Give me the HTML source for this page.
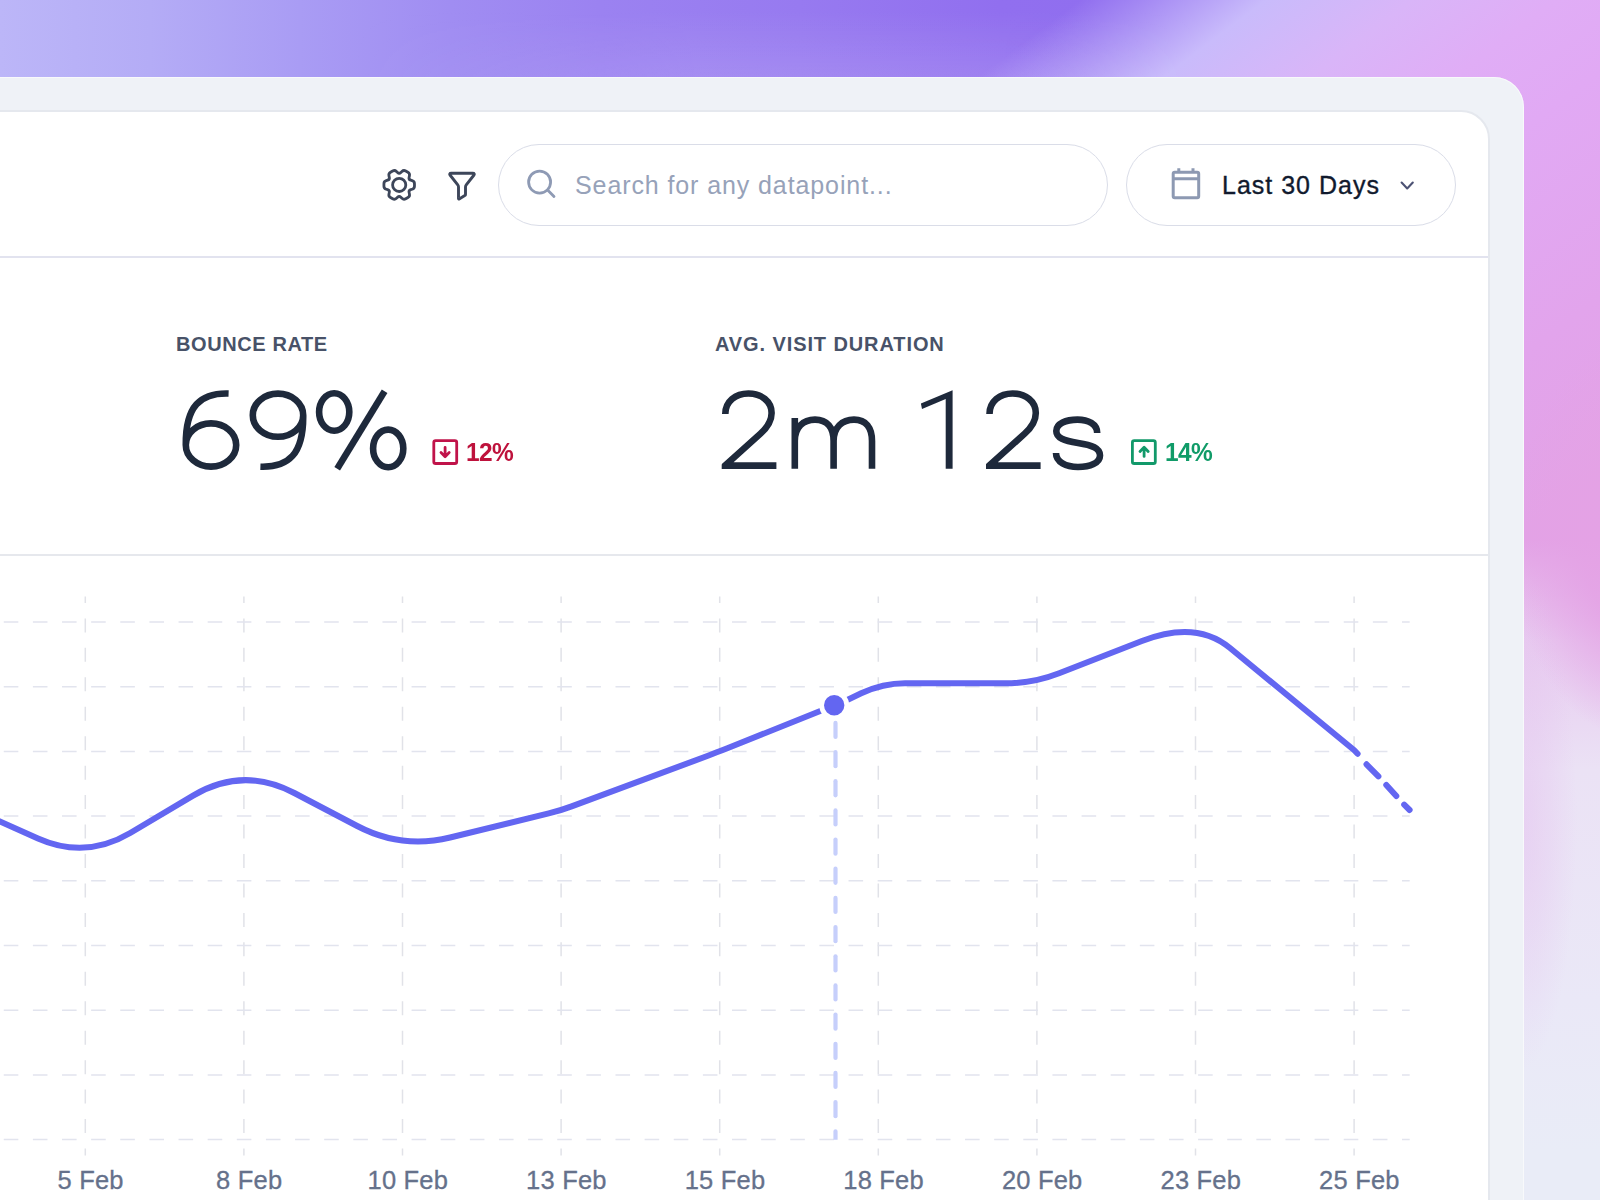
<!DOCTYPE html>
<html><head><meta charset="utf-8">
<style>
*{margin:0;padding:0;box-sizing:border-box}
html,body{width:1600px;height:1200px;overflow:hidden}
body{font-family:"Liberation Sans",sans-serif;position:relative;background:#d9b0f6;}
.bg{position:absolute;left:0;top:0;width:1600px;height:1200px;
 background:
  radial-gradient(ellipse 55px 250px at 1522px 820px, rgba(228,190,238,.5) 0%, rgba(228,190,238,.28) 50%, rgba(228,190,238,0) 100%),
  radial-gradient(ellipse 130px 200px at 1640px 540px, rgba(228,162,229,1) 0%, rgba(228,162,229,.85) 45%, rgba(228,162,229,0) 100%),
  linear-gradient(180deg, rgba(234,224,245,0) 540px, rgba(233,212,242,.8) 640px, rgba(235,226,245,1) 770px, rgba(234,232,247,1) 1000px, rgba(233,236,247,1) 1150px),
  linear-gradient(143deg,rgba(146,112,239,0) 650px,#c9bbfb 762px,#d9b5f8 850px,#e0adf6 936px,#e1a9f4 1020px,#e2a4ec 1200px,#e3a2e6 1340px,#e3a2e6 1920px),
  linear-gradient(90deg,#bcb6f8 0px,#b4acf6 150px,#a99cf4 300px,#a08df2 450px,#9b82f1 600px,#977af0 800px,#916fef 1000px,#906eef 1100px,#906eef 1600px);}
.topfade{position:absolute;left:0;top:0;width:1300px;height:77px;background:linear-gradient(180deg,rgba(255,255,255,0) 10px,rgba(255,255,255,.12) 77px);-webkit-mask-image:linear-gradient(90deg,transparent 350px,#000 700px,#000 1000px,transparent 1200px);mask-image:linear-gradient(90deg,transparent 350px,#000 700px,#000 1000px,transparent 1200px)}
.outer{position:absolute;left:-60px;top:77px;width:1584px;height:1300px;background:#eff2f7;border-radius:30px;box-shadow:inset 0 0 0 1px rgba(255,255,255,.55)}
.card{position:absolute;left:-60px;top:110px;width:1550px;height:1300px;background:#fff;border:2px solid #e5e8ee;border-radius:29px}
.hr1{position:absolute;left:0;top:256px;width:1488px;height:2px;background:#e2e3ef}
.hr2{position:absolute;left:0;top:554px;width:1488px;height:2px;background:#e6e8ed}
.pill{position:absolute;top:144px;height:82px;border:1.5px solid #dadde8;border-radius:41px;background:#fff}
.search{left:498px;width:610px}
.date{left:1126px;width:330px}
.ph{position:absolute;left:575px;top:170px;font-size:25px;line-height:30px;color:#97a2b9;white-space:nowrap;letter-spacing:.9px}
.dl{position:absolute;left:1222px;top:170px;font-size:25px;line-height:30px;color:#111a2e;white-space:nowrap;-webkit-text-stroke:.35px #111a2e;letter-spacing:1px}
.lbl{position:absolute;top:332px;font-size:20px;line-height:24px;font-weight:700;color:#485268;letter-spacing:.4px;white-space:nowrap}
.big{position:absolute;top:370px;font-size:110px;line-height:120px;color:#1e293b;white-space:nowrap}
.delta{position:absolute;top:437px;font-size:26px;line-height:30px;font-weight:700;white-space:nowrap;letter-spacing:-.6px;transform:scaleX(.94);transform-origin:0 0}
svg{position:absolute;left:0;top:0}
</style></head><body>
<div class="bg"></div>
<div class="topfade"></div>
<div class="outer"></div>
<div class="card"></div>
<div class="hr1"></div>
<div class="hr2"></div>
<div class="pill search"></div>
<div class="pill date"></div>
<div class="ph">Search for any datapoint...</div>
<div class="dl">Last 30 Days</div>
<div class="lbl" style="left:176px;letter-spacing:.6px">BOUNCE RATE</div>
<div class="lbl" style="left:715px;letter-spacing:.9px">AVG. VISIT DURATION</div>
<div class="delta" style="left:466px;color:#be123c">12%</div>
<div class="delta" style="left:1165px;color:#109b68">14%</div>
<svg id="main" width="1600" height="1200" viewBox="0 0 1600 1200" fill="none">
<!--ICONS-->
<g stroke="#3d465a" stroke-width="2.8" stroke-linejoin="round" stroke-linecap="round">
<path d="M412.16 180.56C413.55 180.96 414.47 182.19 414.47 183.63L414.47 186.17C414.47 187.61 413.55 188.84 412.16 189.24L410.76 189.65C409.44 190.04 408.77 191.19 409.10 192.54L409.44 193.96C409.78 195.36 409.18 196.77 407.93 197.49L405.74 198.75C404.49 199.47 402.96 199.29 401.92 198.30L400.86 197.29C399.87 196.34 398.53 196.34 397.54 197.29L396.48 198.30C395.44 199.29 393.91 199.47 392.66 198.75L390.47 197.49C389.22 196.77 388.62 195.36 388.96 193.96L389.30 192.54C389.63 191.19 388.96 190.04 387.64 189.65L386.24 189.24C384.85 188.84 383.93 187.61 383.93 186.17L383.93 183.63C383.93 182.19 384.85 180.96 386.24 180.56L387.64 180.15C388.96 179.76 389.63 178.61 389.30 177.26L388.96 175.84C388.62 174.44 389.22 173.03 390.47 172.31L392.66 171.05C393.91 170.33 395.44 170.51 396.48 171.50L397.54 172.51C398.53 173.46 399.87 173.46 400.86 172.51L401.92 171.50C402.96 170.51 404.49 170.33 405.74 171.05L407.93 172.31C409.18 173.03 409.78 174.44 409.44 175.84L409.10 177.26C408.77 178.61 409.44 179.76 410.76 180.15Z"/>
<circle cx="399.2" cy="184.9" r="6.6"/>
<path d="M450.20 175.25C449.24 174.02 449.64 173.20 451.20 173.20L472.80 173.20C474.36 173.20 474.76 174.02 473.80 175.25L466.24 184.95C465.80 185.52 465.50 186.38 465.50 187.10L465.50 194.40C465.50 194.88 465.22 195.36 464.81 195.60L459.19 198.90C458.78 199.14 458.50 198.98 458.50 198.50L458.50 187.10C458.50 186.38 458.20 185.52 457.76 184.95Z" stroke-width="2.9"/>
</g>
<g stroke="#8e9ab4" stroke-width="2.8" stroke-linecap="round"><circle cx="539.6" cy="182.1" r="11"/><path d="M547.6 190.1L554 196.6"/></g>
<g stroke="#8d99b2" stroke-width="3" stroke-linejoin="round"><rect x="1173.2" y="172.3" width="25.5" height="25.5" rx="1.5"/><path d="M1173.2 178.8H1198.7M1178.8 168.3V172.3M1193 168.3V172.3"/></g>
<path d="M1401.6 182.6L1407.2 188.4L1412.8 182.6" stroke="#4c5274" stroke-width="2.1" stroke-linecap="round" stroke-linejoin="round"/>
<g stroke="#c0134a" stroke-linecap="round" stroke-linejoin="round"><rect x="433.8" y="440.6" width="22.9" height="22.9" rx="1.8" stroke-width="2.8"/><path d="M445.1 447.5V456.5M441.0 452.6L445.1 456.7L449.2 452.6" stroke-width="2.8"/></g>
<g stroke="#12996a" stroke-linecap="round" stroke-linejoin="round"><rect x="1132.4" y="440.6" width="22.9" height="22.9" rx="1.8" stroke-width="2.8"/><path d="M1144.1 456.4V447.4M1140.0 451.5L1144.1 447.3L1148.2 451.5" stroke-width="2.8"/></g>
<defs><clipPath id="c2a"><rect x="721.7" y="380" width="70" height="100"/></clipPath><clipPath id="c2b"><rect x="985.9" y="380" width="70" height="100"/></clipPath></defs>
<g stroke="#1e293b" stroke-width="6.6" stroke-linejoin="miter" stroke-miterlimit="10"><path d="M228.6 393.5C200.5 392.6 185.4 406 185.8 445a25.2 21.6 0 1 0 50.4 0a25.2 21.6 0 1 0 -50.4 0"/><path d="M228.6 393.5C200.5 392.6 185.4 406 185.8 445a25.2 21.6 0 1 0 50.4 0a25.2 21.6 0 1 0 -50.4 0" transform="rotate(180 244.5 430.1)"/><ellipse cx="334.2" cy="412" rx="15.1" ry="18.8"/><ellipse cx="388.2" cy="448.4" rx="15.1" ry="18.8"/><path d="M384.6 391.2L337.2 468.8"/><path d="M725.3 414C725.3 401.6 735.6 393.5 748.4 393.5C761.3 393.5 771.6 401.3 771.6 413C771.6 421.5 767.3 427.5 760.5 433.6L725 465.6H776.4" clip-path="url(#c2a)"/><g clip-path="url(#c2b)"><path d="M725.3 414C725.3 401.6 735.6 393.5 748.4 393.5C761.3 393.5 771.6 401.3 771.6 413C771.6 421.5 767.3 427.5 760.5 433.6L725 465.6H776.4" transform="translate(264.2 0)"/></g><path d="M794.8 418V468.8M794.8 441C794.8 427.5 803 419.6 815 419.6C827 419.6 833.6 427.5 833.6 441V468.8M833.6 441C833.6 427.5 842 419.6 854 419.6C866 419.6 872 427.5 872 441V468.8"/><path d="M1097.2 433C1097.2 424 1088 419.6 1077.5 419.6C1066 419.6 1056.3 423.6 1056.3 431C1056.3 438 1064 440.6 1078 442.9C1092 445.1 1100 448 1100 455.5C1100 463 1090 467 1078 467C1066 467 1056 462 1056 453"/><path d="M920.9 403.4L952.6 390.3V468.75H945.7V399L922 409.1Z" fill="#1e293b" stroke="none"/></g>
<!--/ICONS-->
<!--CHART-->
<g stroke="#e1e2e8" stroke-width="1.5" stroke-dasharray="14 15.45" stroke-dashoffset="7.55">
<path d="M85.3 596.5V1155.6"/>
<path d="M243.9 596.5V1155.6"/>
<path d="M402.5 596.5V1155.6"/>
<path d="M561.1 596.5V1155.6"/>
<path d="M719.7 596.5V1155.6"/>
<path d="M878.3 596.5V1155.6"/>
<path d="M1036.9 596.5V1155.6"/>
<path d="M1195.5 596.5V1155.6"/>
<path d="M1354.1 596.5V1155.6"/>
</g>
<g stroke="#e2e4ee" stroke-width="1.5" stroke-dasharray="14.6 14.53">
<path d="M-25.38 622.0H1409.7"/>
<path d="M-25.38 686.7H1409.7"/>
<path d="M-25.38 751.4H1409.7"/>
<path d="M-25.38 816.1H1409.7"/>
<path d="M-25.38 880.8H1409.7"/>
<path d="M-25.38 945.5H1409.7"/>
<path d="M-25.38 1010.2H1409.7"/>
<path d="M-25.38 1074.9H1409.7"/>
<path d="M-25.38 1139.6H1409.7"/>
</g>
<g fill="#c6cffb">
<rect x="833.4" y="720.8" width="4.2" height="18.3" rx="2.1"/>
<rect x="833.4" y="750.0" width="4.2" height="18.3" rx="2.1"/>
<rect x="833.4" y="779.1" width="4.2" height="18.3" rx="2.1"/>
<rect x="833.4" y="808.3" width="4.2" height="18.3" rx="2.1"/>
<rect x="833.4" y="837.5" width="4.2" height="18.3" rx="2.1"/>
<rect x="833.4" y="866.6" width="4.2" height="18.3" rx="2.1"/>
<rect x="833.4" y="895.8" width="4.2" height="18.3" rx="2.1"/>
<rect x="833.4" y="925.0" width="4.2" height="18.3" rx="2.1"/>
<rect x="833.4" y="954.2" width="4.2" height="18.3" rx="2.1"/>
<rect x="833.4" y="983.3" width="4.2" height="18.3" rx="2.1"/>
<rect x="833.4" y="1012.5" width="4.2" height="18.3" rx="2.1"/>
<rect x="833.4" y="1041.7" width="4.2" height="18.3" rx="2.1"/>
<rect x="833.4" y="1070.8" width="4.2" height="18.3" rx="2.1"/>
<rect x="833.4" y="1100.0" width="4.2" height="18.3" rx="2.1"/>
<path d="M833.4 1139.7V1131.3a2.1 2.1 0 0 1 4.2 0V1139.7z"/>
</g>
<path d="M-10.0 817.0 L38.0 838.4 C69.3 852.3 100.7 850.5 130.2 833.0 L193.1 795.6 C226.0 776.1 260.5 775.2 294.3 793.0 L357.2 826.0 C386.5 841.4 418.0 845.3 450.1 837.5 L548.7 813.4 C556.4 811.6 564.2 809.2 571.6 806.4 L708.6 755.5 C714.8 753.2 721.2 750.7 727.3 748.3 L834.6 705.2 C839.5 703.2 844.5 701.1 849.3 698.9 L861.2 693.3 C875.6 686.7 890.5 683.3 905.0 683.3 L1005.0 683.3 C1023.5 683.3 1041.9 679.9 1059.1 673.2 L1141.9 641.0 C1177.6 627.1 1207.6 629.5 1230.0 648.0 L1354.0 750.0 L1357.6 753.8" stroke="#6366f1" stroke-width="6" stroke-linecap="round" stroke-linejoin="round"/>
<g stroke="#6366f1" stroke-width="6" stroke-linecap="round"><path d="M1366.5 764.3L1378.4 776.4"/><path d="M1386.3 784.9L1396.3 796"/><path d="M1404.2 804.7L1409.6 810"/></g>
<circle cx="834.2" cy="705.3" r="12.6" fill="#6366f1" stroke="#fff" stroke-width="4.8"/>
<g font-family="Liberation Sans, sans-serif" font-size="25.5" fill="#65718b" stroke="#65718b" stroke-width=".3" letter-spacing=".2" text-anchor="middle">
<text x="90.6" y="1188.5">5 Feb</text>
<text x="249.2" y="1188.5">8 Feb</text>
<text x="407.8" y="1188.5">10 Feb</text>
<text x="566.4" y="1188.5">13 Feb</text>
<text x="725.0" y="1188.5">15 Feb</text>
<text x="883.6" y="1188.5">18 Feb</text>
<text x="1042.2" y="1188.5">20 Feb</text>
<text x="1200.8" y="1188.5">23 Feb</text>
<text x="1359.4" y="1188.5">25 Feb</text>
</g>
<!--/CHART-->
</svg>
</body></html>
